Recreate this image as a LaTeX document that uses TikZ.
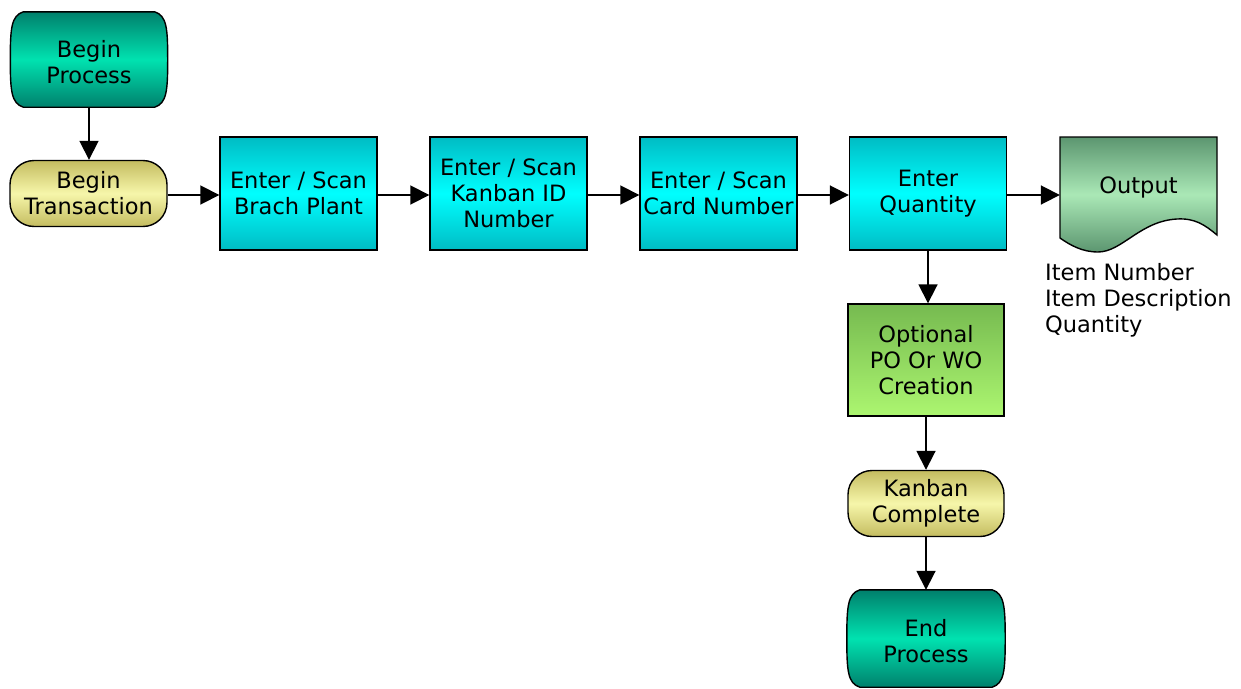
\documentclass[tikz,border=0pt]{standalone}
\usepackage{fontspec}
\setmainfont{DejaVu Sans}
\usetikzlibrary{arrows.meta,calc}
\definecolor{tealD}{RGB}{0,128,108}
\definecolor{tealL}{RGB}{0,226,176}
\definecolor{cyanD}{RGB}{0,188,196}
\definecolor{cyanL}{RGB}{0,255,255}
\definecolor{yelD}{RGB}{196,188,96}
\definecolor{yelL}{RGB}{246,246,170}
\definecolor{grnD}{RGB}{118,186,80}
\definecolor{grnL}{RGB}{172,246,112}
\definecolor{outD}{RGB}{92,150,112}
\definecolor{outL}{RGB}{170,232,182}
\pgfdeclarelayer{bgzero}
\pgfdeclarelayer{background}
\pgfsetlayers{bgzero,background,main}
% barrel outline round node #1, shifted vertically by #2
\newcommand\mybarrel[2]{%
  \path[termfill] ($(#1.north west)+(12,#2)$) -- ($(#1.north east)+(-12,#2)$)
    .. controls ($(#1.north east)+(0,4+#2)$) and ($(#1.north east)+(1,16+#2)$) .. ($(#1.east)+(1,#2)$)
    .. controls ($(#1.south east)+(1,-16+#2)$) and ($(#1.south east)+(0,-4+#2)$) .. ($(#1.south east)+(-12,#2)$)
    -- ($(#1.south west)+(12,#2)$)
    .. controls ($(#1.south west)+(0,-4+#2)$) and ($(#1.south west)+(-1,-16+#2)$) .. ($(#1.west)+(-1,#2)$)
    .. controls ($(#1.north west)+(-1,16+#2)$) and ($(#1.north west)+(0,4+#2)$) .. cycle;}
\begin{document}
\begin{tikzpicture}[x=1pt,y=-1pt,
  txt/.style={font=\fontsize{22.5}{26}\selectfont, align=center, text=black},
  proc/.style={txt, draw=black, line width=1.4pt, minimum width=157pt, minimum height=113pt, inner sep=0pt,
    top color=cyanD, bottom color=cyanD, middle color=cyanL},
  term/.style={txt, minimum width=155pt, minimum height=95pt, inner sep=0pt},
  termfill/.style={draw=black, line width=1.4pt, top color=tealD, bottom color=tealD, middle color=tealL},
  pill/.style={txt, draw=black, line width=1.4pt, rectangle, rounded corners=24pt,
    minimum width=157pt, minimum height=66pt, inner sep=0pt,
    top color=yelD, bottom color=yelD, middle color=yelL},
  opt/.style={txt, draw=black, line width=1.4pt, minimum width=156pt, minimum height=112pt, inner sep=0pt,
    top color=grnD, bottom color=grnL},
  plain/.style={font=\fontsize{22.5}{26}\selectfont, text=black, inner sep=0pt},
  arr/.style={line width=1.8pt, -{Triangle[length=19pt,width=19pt]}}
]
\begin{pgfonlayer}{bgzero}
\fill[white] (0,0) rectangle (1241,688);
\end{pgfonlayer}
\useasboundingbox (0,0) rectangle (1241,688);

% output document shape
\path[draw=black, line width=1.4pt, top color=outD, bottom color=outD, middle color=outL]
  (1060,137) -- (1217,137) -- (1217,235)
  .. controls (1205,225) and (1195,218) .. (1177,219)
  .. controls (1140,221) and (1122,252) .. (1098,252)
  .. controls (1082,252) and (1070,245) .. (1060,238) -- cycle;

\node[term] (bp) at (89,62.5) {Begin\\Process};
\node[pill] (bt) at (88.5,193.5) {Begin\\Transaction};
\node[proc] (s1) at (298.5,193.5) {Enter / Scan\\Brach Plant};
\node[proc] (s2) at (508.5,193.5) {Enter / Scan\\Kanban ID\\Number};
\node[proc] (s3) at (718.5,193.5) {Enter / Scan\\Card Number};
\node[proc] (s4) at (928,193.5) {Enter\\Quantity};
\node[txt, minimum width=157pt, minimum height=20pt, inner sep=0pt] (out) at (1138.5,187) {Output};
\node[opt] (po) at (926,360) {Optional\\PO Or WO\\Creation};
\node[pill, minimum width=156pt] (kc) at (926,503.5) {Kanban\\Complete};
\node[term, minimum width=156pt, minimum height=97pt] (ep) at (926,641.5) {End\\Process};

\begin{pgfonlayer}{background}
\mybarrel{bp}{-3}
\mybarrel{ep}{-3}
\end{pgfonlayer}

\node[plain, anchor=base west] (i1) at (1045,280.5) {Item Number};
\node[plain, anchor=base west] (i2) at (1045,306.5) {Item Description};
\node[plain, anchor=base west] (i3) at (1045,332.5) {Quantity};

\draw[arr] ($(bp.south)+(0,-3)$) -- (bp.south |- bt.north);
\draw[arr] ($(bt.east)+(0,1.5)$) -- ($(bt.east -| s1.west)+(0,1.5)$);
\draw[arr] ($(s1.east |- bt.east)+(0,1.5)$) -- ($(bt.east -| s2.west)+(0,1.5)$);
\draw[arr] ($(s2.east |- bt.east)+(0,1.5)$) -- ($(bt.east -| s3.west)+(0,1.5)$);
\draw[arr] ($(s3.east |- bt.east)+(0,1.5)$) -- ($(bt.east -| s4.west)+(0,1.5)$);
\draw[arr] ($(s4.east |- bt.east)+(0,1.5)$) -- ($(bt.east -| out.west)+(0,1.5)$);
\draw[arr] (s4.south) -- (s4.south |- po.north);
\draw[arr] (po.south) -- (kc.north);
\draw[arr] (kc.south) -- ($(ep.north)+(0,-3)$);
\end{tikzpicture}
\end{document}
